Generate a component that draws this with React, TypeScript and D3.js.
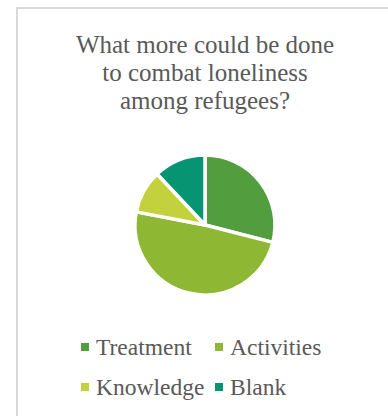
import React from "react";
import * as d3 from "d3";

const categories = ["Treatment", "Activities", "Knowledge", "Blank"];
const values = [29, 49, 10, 12];
const colors = ["#529e3e", "#8eb834", "#c3d13c", "#079473"];
const titleLines = ["What more could be done", "to combat loneliness", "among refugees?"];

const SERIF = "'Times New Roman', Times, Tinos, 'Nimbus Roman', 'DejaVu Serif'";

export default function App() {
  const W = 388, H = 416;
  const cx = 205, cy = 225, r = 70;
  const pie = d3.pie<number>().sort(null).value((d) => d)(values);
  const arc = d3.arc<d3.PieArcDatum<number>>().innerRadius(0).outerRadius(r);
  const legendPos = [
    { x: 81, y: 355 },
    { x: 215, y: 355 },
    { x: 81, y: 395 },
    { x: 215, y: 395 },
  ];
  return (
    <svg width={W} height={H} style={{ position: "absolute", left: 0, top: 0 }}>
      <rect x={0} y={0} width={W} height={H} fill="#fff" />
      <rect x={17} y={8} width={W + 20} height={H + 20} fill="#fff" stroke="#d9d9d9" strokeWidth={2} />
      {titleLines.map((t, i) => (
        <text key={i} x={205} y={52.5 + i * 28} textAnchor="middle" style={{ fontFamily: SERIF, fontSize: "25px", fill: "#595959" }}>
          {t}
        </text>
      ))}
      <g transform={`translate(${cx},${cy})`}>
        {pie.map((p, i) => (
          <path key={i} d={arc(p) || ""} fill={colors[i]} stroke="#fff" strokeWidth={3.5} strokeLinejoin="round" />
        ))}
      </g>
      {categories.map((c, i) => (
        <g key={c}>
          <rect x={legendPos[i].x} y={legendPos[i].y - 12} width={8} height={8} fill={colors[i]} />
          <text x={legendPos[i].x + 15} y={legendPos[i].y} style={{ fontFamily: SERIF, fontSize: "23.5px", fill: "#595959" }}>{c}</text>
        </g>
      ))}
    </svg>
  );
}
